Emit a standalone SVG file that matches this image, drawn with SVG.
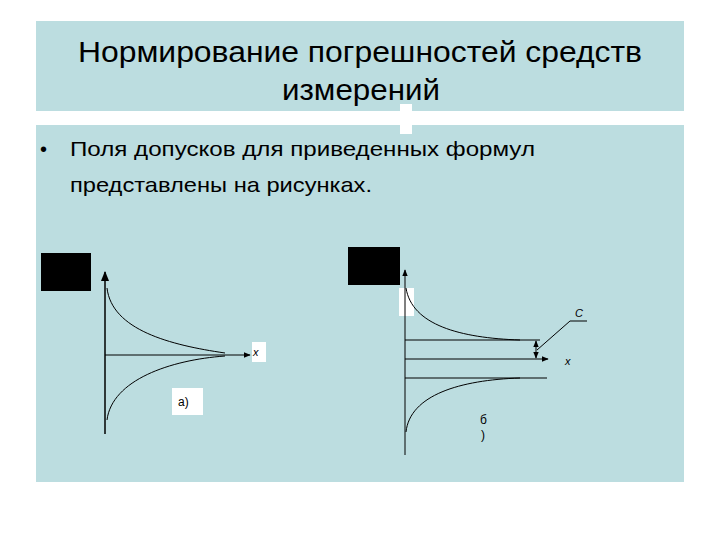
<svg xmlns="http://www.w3.org/2000/svg" width="720" height="540" viewBox="0 0 720 540">
<style>
.ln{stroke:#000;fill:none;stroke-width:1}
.ax{stroke:#000;fill:none;stroke-width:1.5}
.t{font-family:"Liberation Sans",Arial,sans-serif;fill:#000}
</style>
<defs>
<marker id="ar" viewBox="0 0 10 10" refX="9" refY="5" markerWidth="7" markerHeight="7" orient="auto-start-reverse"><path d="M0,1 L10,5 L0,9 z" fill="#000"/></marker>
</defs>
<rect width="720" height="540" fill="#fff"/>
<rect x="36" y="21" width="648" height="90" fill="#bcdde0"/>
<rect x="36" y="125" width="648" height="357" fill="#bcdde0"/>
<rect x="400" y="104" width="12" height="30" fill="#fff"/>
<text class="t" x="78" y="62" font-size="30" textLength="564" lengthAdjust="spacingAndGlyphs">Нормирование погрешностей средств</text>
<text class="t" x="282" y="100" font-size="30" textLength="158" lengthAdjust="spacingAndGlyphs">измерений</text>
<text class="t" x="40" y="156" font-size="20">•</text>
<text class="t" x="70" y="156" font-size="21" textLength="465" lengthAdjust="spacingAndGlyphs">Поля допусков для приведенных формул</text>
<text class="t" x="70" y="192" font-size="21" textLength="302" lengthAdjust="spacingAndGlyphs">представлены на рисунках.</text>
<g id="fig-a">
<rect x="41" y="253" width="50" height="38" fill="#000"/>
<line class="ax" x1="105" y1="434" x2="105" y2="272" marker-end="url(#ar)"/>
<line class="ln" x1="105" y1="355" x2="250" y2="355" marker-end="url(#ar)"/>
<path class="ln" d="M107,288 C112,330 170,345 225,353"/>
<path class="ln" d="M107,420 C112,380 170,360 225,356"/>
<rect x="252" y="342" width="14" height="20" fill="#fff"/>
<text class="t" x="253" y="356" font-size="11" font-style="italic">x</text>
<rect x="172" y="388" width="31" height="27" fill="#fff"/>
<text class="t" x="178" y="406" font-size="12">а)</text>
</g>
<g id="fig-b">
<rect x="348" y="247" width="52" height="38" fill="#000"/>
<rect x="399" y="288" width="15" height="28" fill="#fff"/>
<line class="ln" x1="405" y1="455" x2="405" y2="270" marker-end="url(#ar)"/>
<path class="ln" d="M406,288 C412,325 460,338 520,340"/>
<path class="ln" d="M406,432 C410,395 460,380 520,378"/>
<line class="ln" x1="405" y1="340" x2="540" y2="340"/>
<line class="ln" x1="405" y1="359" x2="548" y2="359" marker-end="url(#ar)"/>
<line class="ln" x1="405" y1="378" x2="547" y2="378"/>
<line class="ln" x1="536" y1="341" x2="536" y2="358" marker-start="url(#ar)" marker-end="url(#ar)"/>
<polyline class="ln" points="537,350 570,321 587,321"/>
<text class="t" x="575" y="317" font-size="11" font-style="italic">C</text>
<text class="t" x="565" y="365" font-size="11" font-style="italic">x</text>
<text class="t" x="480" y="424" font-size="12">б</text>
<text class="t" x="481" y="439" font-size="12">)</text>
</g>
</svg>
